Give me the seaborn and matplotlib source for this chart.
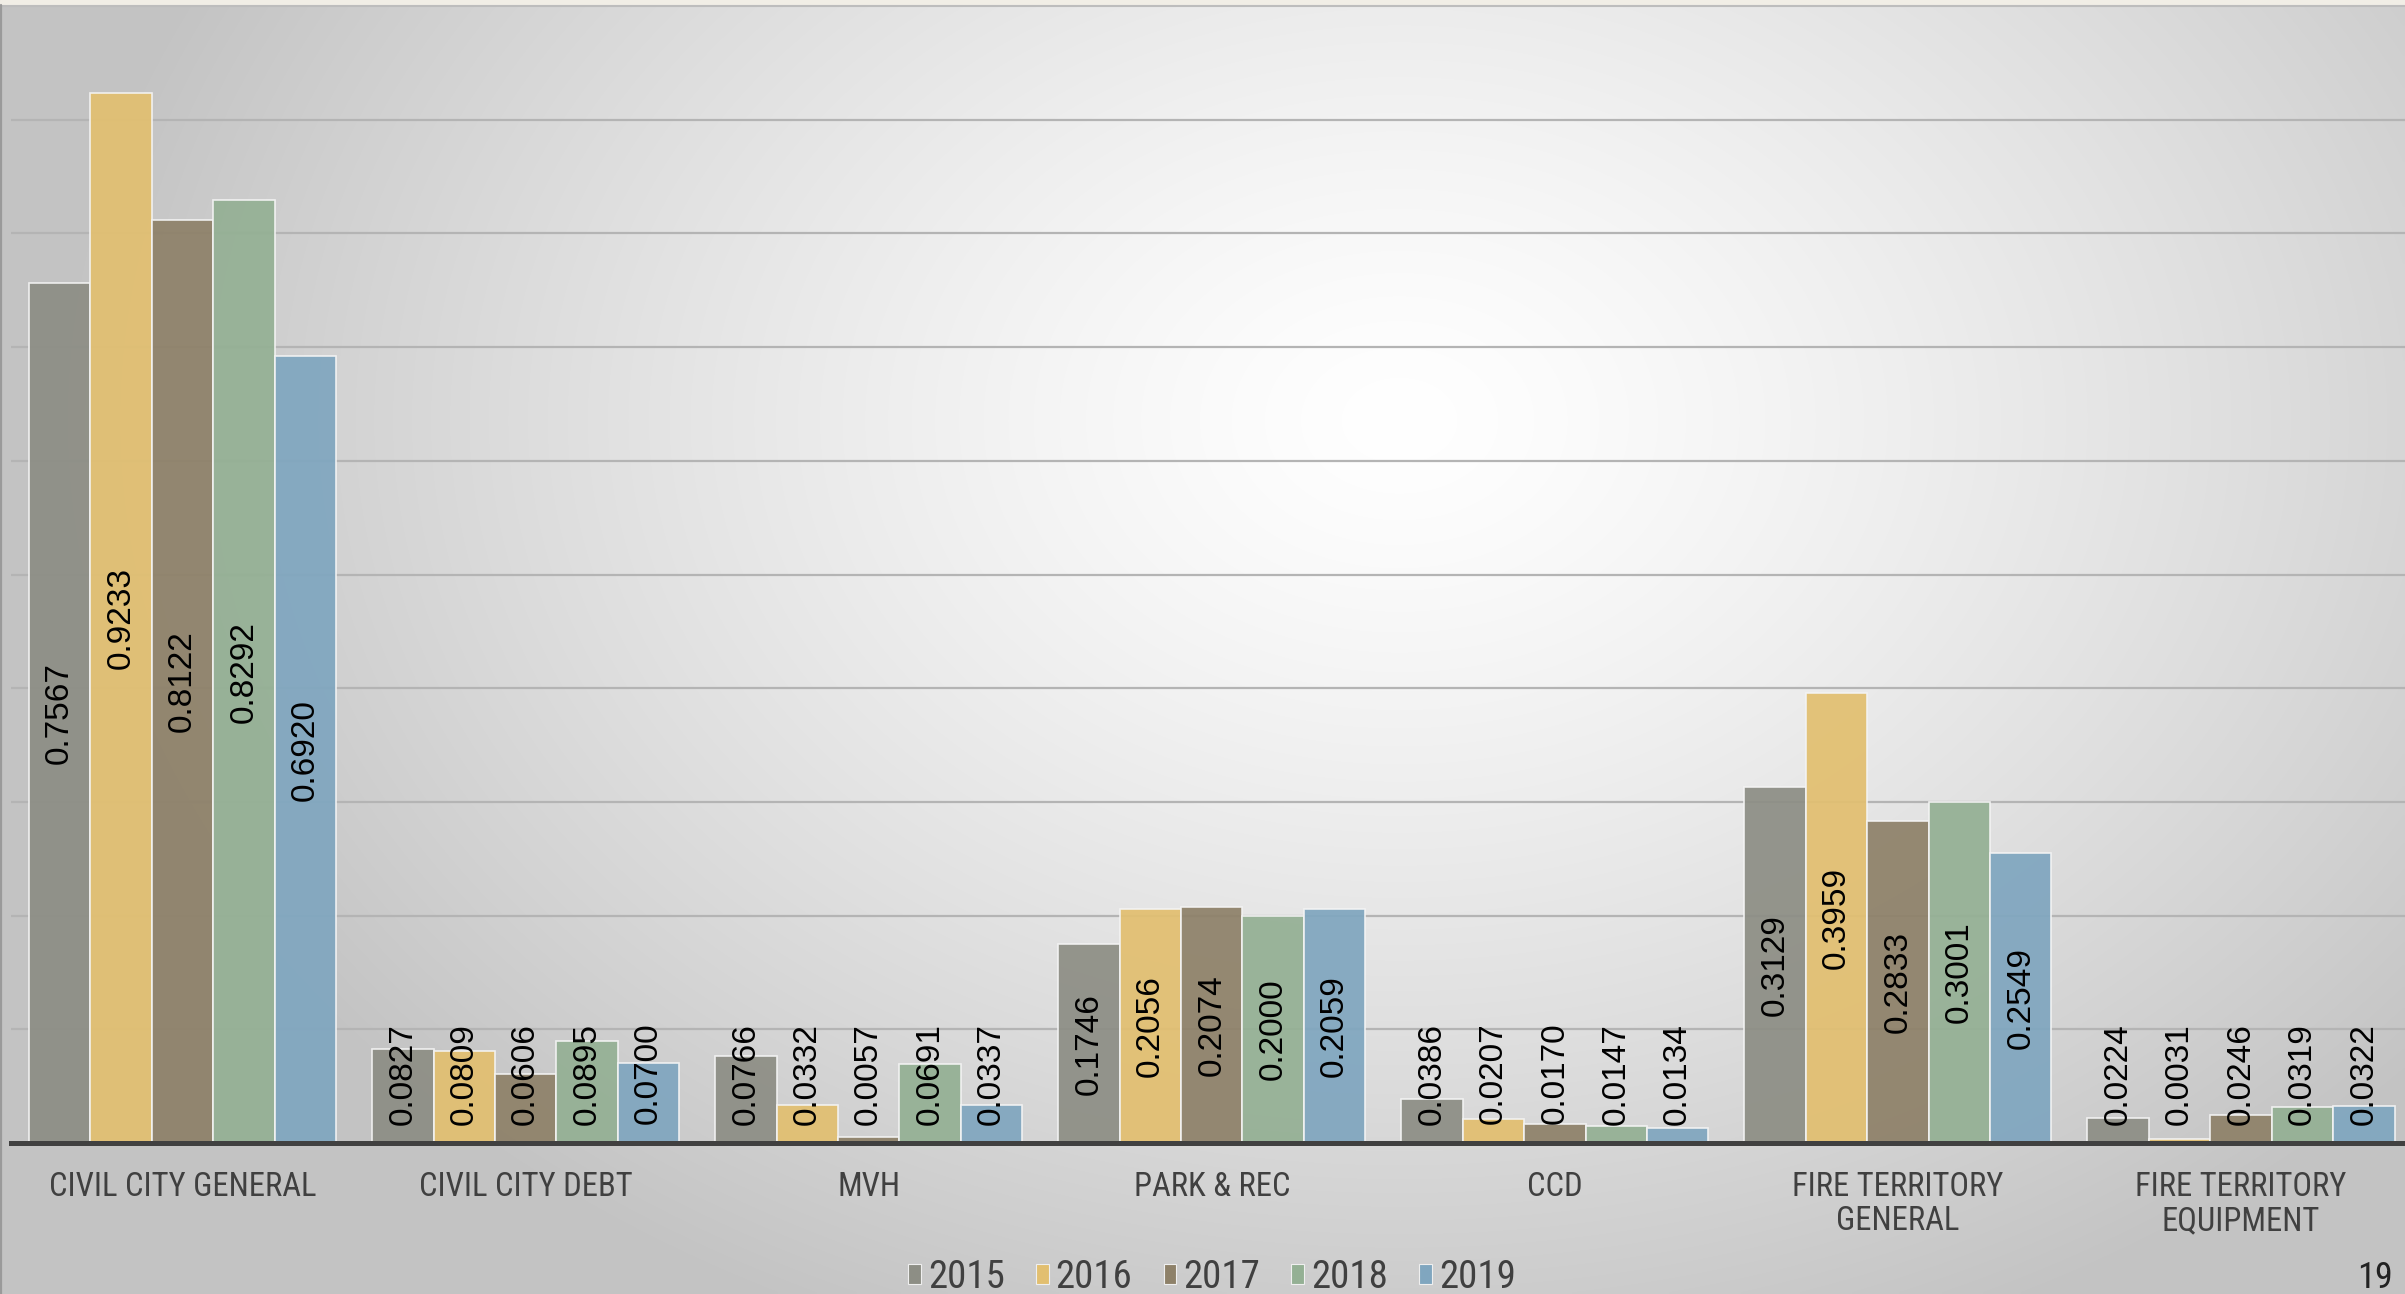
import numpy as np
import pandas as pd
import matplotlib
matplotlib.use("Agg")
import matplotlib.pyplot as plt
from matplotlib.patches import Patch, Rectangle
from matplotlib import font_manager
from matplotlib.font_manager import FontProperties
import seaborn as sns

# ---------------- data ----------------
categories = ["CIVIL CITY GENERAL", "CIVIL CITY DEBT", "MVH", "PARK & REC", "CCD",
              "FIRE TERRITORY\nGENERAL", "FIRE TERRITORY\nEQUIPMENT"]
years = ["2015", "2016", "2017", "2018", "2019"]
v2015 = [0.7567, 0.0827, 0.0766, 0.1746, 0.0386, 0.3129, 0.0224]
v2016 = [0.9233, 0.0809, 0.0332, 0.2056, 0.0207, 0.3959, 0.0031]
v2017 = [0.8122, 0.0606, 0.0057, 0.2074, 0.0170, 0.2833, 0.0246]
v2018 = [0.8292, 0.0895, 0.0691, 0.2000, 0.0147, 0.3001, 0.0319]
v2019 = [0.6920, 0.0700, 0.0337, 0.2059, 0.0134, 0.2549, 0.0322]
series = [v2015, v2016, v2017, v2018, v2019]
colors = ["#8D8E85", "#E2BF70", "#8E8169", "#94B094", "#80A6BF"]
page_number = "19"

rows = []
for y, vals in zip(years, series):
    for c, v in zip(categories, vals):
        rows.append({"category": c, "year": y, "value": v})
df = pd.DataFrame(rows)

# ---------------- fonts ----------------
def find_condensed():
    best = None
    for f in font_manager.fontManager.ttflist:
        nm = f.name.lower()
        st = str(f.stretch).lower()
        cond = ("narrow" in nm or "condensed" in nm or "condensed" in st
                or "narrow" in st)
        if not cond:
            continue
        if f.style != "normal" or f.weight not in (400, "normal", "regular", "book"):
            continue
        if "mono" in nm or "serif" in nm and "sans" not in nm:
            continue
        score = 0
        if "liberation" in nm:
            score = 3
        elif "roboto" in nm or "open sans" in nm:
            score = 2
        elif "semi" in st or "semi" in nm:
            score = 0
        else:
            score = 1
        if best is None or score > best[0]:
            best = (score, f.fname)
    return best[1] if best else None

narrow = find_condensed()
if narrow:
    fp_cat = FontProperties(fname=narrow, size=23.5)
    fp_leg = FontProperties(fname=narrow, size=28)
    fp_num = FontProperties(fname=narrow, size=26)
else:
    fp_cat = FontProperties(family="Liberation Sans", size=19.5)
    fp_leg = FontProperties(family="Liberation Sans", size=24)
    fp_num = FontProperties(family="Liberation Sans", size=23)

# ---------------- figure ----------------
sns.set_theme(style="white")
plt.rcParams["font.family"] = ["Liberation Sans", "DejaVu Sans"]
W, H = 2405, 1294
fig = plt.figure(figsize=(W / 100, H / 100), dpi=100)

# background gradient
bg = fig.add_axes([0, 0, 1, 1], zorder=-10)
xx, yy = np.meshgrid(np.linspace(0, W, 600), np.linspace(0, H, 330))
r = np.sqrt(((xx - 1400) / 1350) ** 2 + ((yy - 420) / 1000) ** 2)
val = 1 - 0.235 * np.clip(r, 0, 1) ** 1.3
img = np.dstack([val, val, val])
bg.imshow(img, extent=[0, W, H, 0], aspect="auto", interpolation="bilinear")
bg.set_xlim(0, W)
bg.set_ylim(H, 0)
bg.axis("off")
bg.add_patch(Rectangle((0, 0), W, 5, color="#F1EEE6", zorder=3))
bg.plot([0, W], [5.5, 5.5], color="#BDBDBD", lw=1.5, zorder=4)
bg.plot([0.8, 0.8], [5, H], color="#9A9A9A", lw=1.6, zorder=4)

# main axes
left_px, base_px, top_px = 11, 1143, 6
ax = fig.add_axes([left_px / W, 1 - base_px / H, 1 - left_px / W, (base_px - top_px) / H])
ax.set_facecolor("none")

sns.barplot(data=df, x="category", y="value", hue="year", palette=colors,
            width=0.895, saturation=1, edgecolor="#F4F4F4", linewidth=1.2,
            alpha=0.93, ax=ax, zorder=2)

ax.set_ylim(0, 1.0)
ax.set_xlim(-0.5, 6.478)
ax.set_yticks(np.arange(0.1, 0.95, 0.1))
ax.yaxis.grid(True, color="#B4B4B4", lw=1.6, zorder=1)
ax.set_axisbelow(True)
ax.tick_params(axis="y", left=False, labelleft=False)
ax.tick_params(axis="x", bottom=False, pad=14)
ax.set_xlabel("")
ax.set_ylabel("")
for s in ["top", "right", "left"]:
    ax.spines[s].set_visible(False)
ax.spines["bottom"].set_color("#404040")
ax.spines["bottom"].set_linewidth(3.6)
ax.spines["bottom"].set_zorder(5)

for lab in ax.get_xticklabels():
    lab.set_fontproperties(fp_cat)
    lab.set_color("#404040")
    lab.set_multialignment("center")
    lab.set_linespacing(1.1)

# data labels
for cont, vals in zip(ax.containers, series):
    for bar, v in zip(cont, vals):
        xc = bar.get_x() + bar.get_width() / 2
        yc = max(v / 2, 0.061)
        ax.text(xc, yc, f"{v:.4f}", rotation=90, ha="center", va="center",
                fontsize=24, color="black", zorder=6,
                fontfamily=["Liberation Sans", "DejaVu Sans"])

# legend
if ax.get_legend() is not None:
    ax.get_legend().remove()
handles = [Patch(facecolor=c, edgecolor="#EFEFEF", lw=0.8) for c in colors]
fig.legend(handles, years, loc="center", bbox_to_anchor=(1212 / W, 1 - 1277 / H),
           ncol=5, frameon=False, handlelength=0.33, handleheight=0.42,
           handletextpad=0.18, columnspacing=0.8,
           prop=fp_leg, labelcolor="#404040", borderpad=0)

fig.text(2393 / W, 1 - 1278 / H, page_number, ha="right", va="center",
         fontproperties=fp_num, color="#222222")

fig.savefig("out.png", dpi=100)
